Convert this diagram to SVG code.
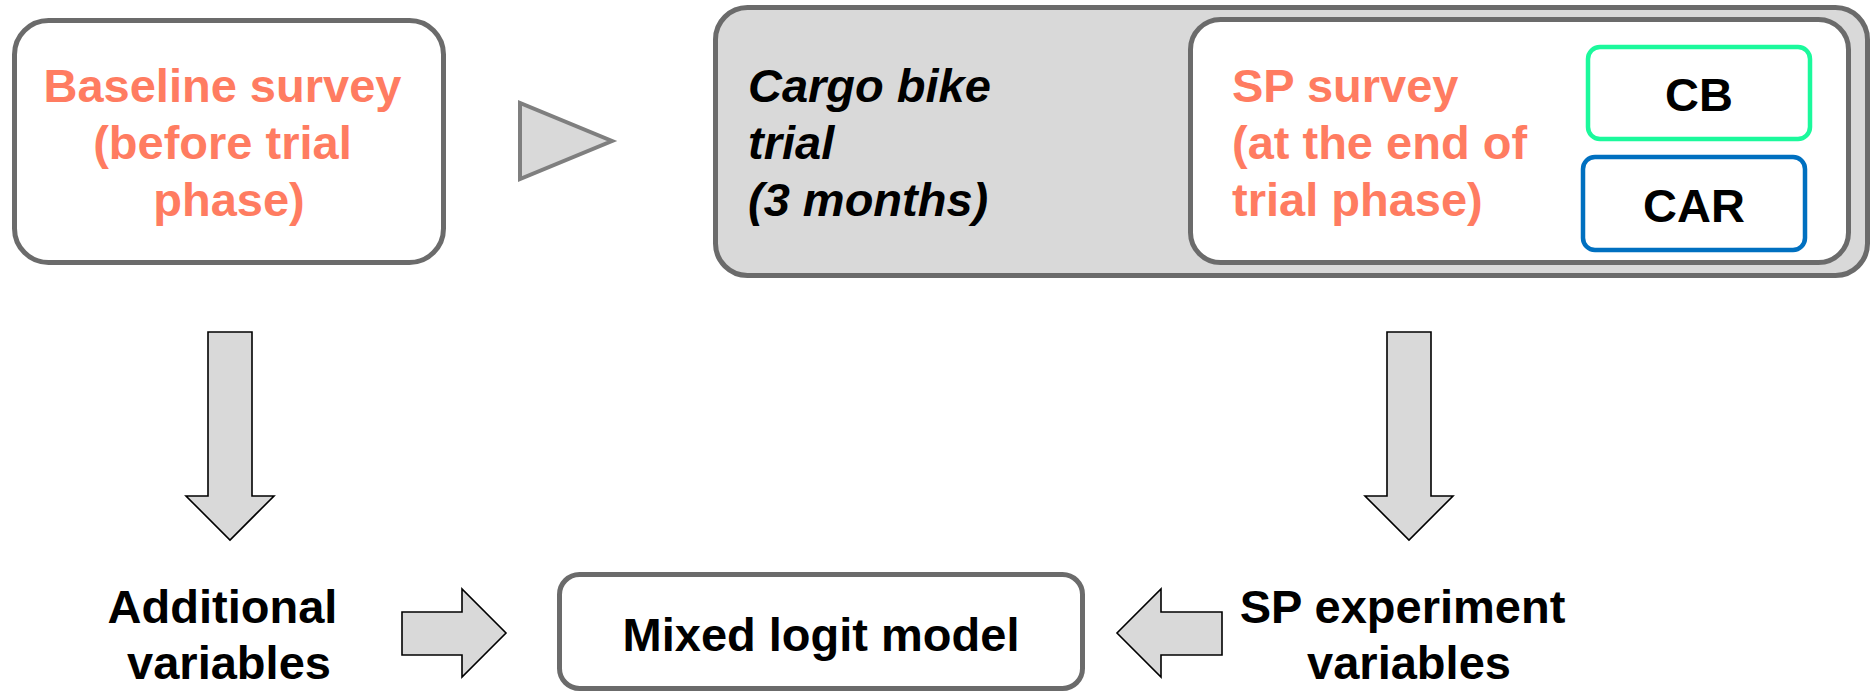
<svg xmlns="http://www.w3.org/2000/svg" width="1871" height="694" viewBox="0 0 1871 694">
  <style>
    .box { fill: #ffffff; stroke: #6b6b6b; stroke-width: 5; }
    .panel { fill: #d9d9d9; stroke: #6b6b6b; stroke-width: 5; }
    .arrow { fill: #d9d9d9; stroke: #000000; stroke-width: 1.6; stroke-linejoin: miter; }
    .t { font-family: "Liberation Sans", Arial, sans-serif; font-weight: bold; font-size: 47px; }
    .salmon { fill: #ff7c61; }
    .black { fill: #000000; }
    .mid { text-anchor: middle; }
  </style>

  <g id="baseline-survey">
    <rect class="box" x="14.5" y="20.5" width="429" height="242" rx="34"/>
    <text class="t salmon mid" x="229" y="102">
      <tspan x="229" y="102">Baseline survey</tspan>
      <tspan x="229" y="159">(before trial</tspan>
      <tspan x="229" y="216">phase)</tspan>
    </text>
  </g>

  <g id="cargo-bike-trial">
    <rect class="panel" x="715.5" y="7.5" width="1152" height="268" rx="32"/>
    <text class="t black" font-style="italic" x="748" y="102">
      <tspan x="748" y="102">Cargo bike</tspan>
      <tspan x="748" y="159">trial</tspan>
      <tspan x="748" y="216">(3 months)</tspan>
    </text>
  </g>

  <g id="sp-survey">
    <rect class="box" x="1190.5" y="19.5" width="658" height="243" rx="30"/>
    <text class="t salmon" x="1232" y="102">
      <tspan x="1232" y="102">SP survey</tspan>
      <tspan x="1232" y="159">(at the end of</tspan>
      <tspan x="1232" y="216">trial phase)</tspan>
    </text>
  </g>

  <g id="option-cb">
    <rect x="1588" y="47" width="222" height="92" rx="12" fill="#ffffff" stroke="#1bf99c" stroke-width="4.5"/>
    <text class="t black mid" font-size="46" x="1699" y="111">CB</text>
  </g>

  <g id="option-car">
    <rect x="1583" y="157" width="222" height="93" rx="12" fill="#ffffff" stroke="#0070c0" stroke-width="4.5"/>
    <text class="t black mid" font-size="46" x="1694" y="222">CAR</text>
  </g>

  <g id="additional-variables">
    <text class="t black mid" x="229" y="623">
      <tspan x="229" y="623">Additional</tspan>
      <tspan x="229" y="679">variables</tspan>
    </text>
  </g>

  <g id="mixed-logit-model">
    <rect class="box" x="559.5" y="574.5" width="523" height="114" rx="20"/>
    <text class="t black mid" x="821" y="651">Mixed logit model</text>
  </g>

  <g id="sp-experiment-variables">
    <text class="t black mid" x="1409" y="623">
      <tspan x="1409" y="623">SP experiment</tspan>
      <tspan x="1409" y="679">variables</tspan>
    </text>
  </g>

  <g id="connectors">
    <!-- sequence marker between the two survey stages -->
    <polygon points="520,103 520,179 612,141" fill="#d9d9d9" stroke="#7f7f7f" stroke-width="4" stroke-linejoin="miter"/>
    <!-- block arrows down from each survey -->
    <polygon class="arrow" points="208,332 252,332 252,496 274,496 230,540 186,496 208,496"/>
    <polygon class="arrow" points="1387,332 1431,332 1431,496 1453,496 1409,540 1365,496 1387,496"/>
    <!-- block arrows into the model -->
    <polygon class="arrow" points="402,612 462,612 462,589 506,633 462,677 462,655 402,655"/>
    <polygon class="arrow" points="1222,612 1161,612 1161,589 1117,633 1161,677 1161,655 1222,655"/>
  </g>
</svg>
